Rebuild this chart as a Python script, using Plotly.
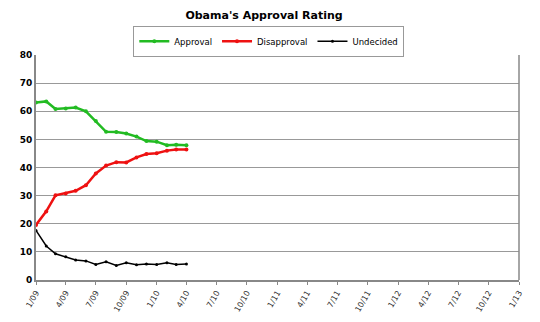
import plotly.graph_objects as go

months = ["2009-01-01", "2009-02-01", "2009-03-01", "2009-04-01", "2009-05-01", "2009-06-01",
          "2009-07-01", "2009-08-01", "2009-09-01", "2009-10-01", "2009-11-01", "2009-12-01",
          "2010-01-01", "2010-02-01", "2010-03-01", "2010-04-01"]
approval = [63.1, 63.5, 60.8, 61.0, 61.3, 60.0, 56.5, 52.7, 52.6, 52.1, 51.0, 49.4, 49.2, 47.9, 48.1, 47.9]
disapproval = [19.6, 24.4, 30.1, 30.8, 31.7, 33.7, 37.9, 40.7, 41.9, 41.8, 43.6, 44.8, 45.1, 46.0, 46.4, 46.4]
undecided = [17.6, 12.1, 9.3, 8.3, 7.1, 6.8, 5.5, 6.5, 5.2, 6.1, 5.4, 5.7, 5.5, 6.1, 5.5, 5.7]

tick_dates = ["2009-01-01", "2009-04-01", "2009-07-01", "2009-10-01", "2010-01-01", "2010-04-01",
              "2010-07-01", "2010-10-01", "2011-01-01", "2011-04-01", "2011-07-01", "2011-10-01",
              "2012-01-01", "2012-04-01", "2012-07-01", "2012-10-01", "2013-01-01"]
tick_labels = ["1/09", "4/09", "7/09", "10/09", "1/10", "4/10", "7/10", "10/10", "1/11", "4/11",
               "7/11", "10/11", "1/12", "4/12", "7/12", "10/12", "1/13"]
y_ticks = [0, 10, 20, 30, 40, 50, 60, 70, 80]

fig = go.Figure()
fig.add_trace(go.Scatter(x=months, y=approval, name="Approval", mode="lines+markers",
                         line=dict(color="#22bb22", width=2.5), marker=dict(size=4, color="#22bb22")))
fig.add_trace(go.Scatter(x=months, y=disapproval, name="Disapproval", mode="lines+markers",
                         line=dict(color="#ee1111", width=2.5), marker=dict(size=4, color="#ee1111")))
fig.add_trace(go.Scatter(x=months, y=undecided, name="Undecided", mode="lines+markers",
                         line=dict(color="#000000", width=1.5), marker=dict(size=3, color="#000000")))

fig.update_layout(
    width=540, height=322,
    margin=dict(l=36, r=21, t=55, b=42, autoexpand=False),
    paper_bgcolor="white", plot_bgcolor="white",
    font=dict(family="DejaVu Sans", size=9, color="#000"),
    title=dict(text="<b>Obama's Approval Rating</b>", x=0.489, xanchor="center", y=0.953, yanchor="middle",
               yref="container", font=dict(size=11, family="DejaVu Sans", color="#000")),
    legend=dict(orientation="h", x=0.482, xanchor="center", y=0.92, yanchor="top", yref="container",
                bordercolor="#999", borderwidth=1, font=dict(size=8.5), itemwidth=30,
                tracegroupgap=0, bgcolor="white"),
    showlegend=True,
)
fig.update_xaxes(type="date", range=["2009-01-01", "2013-01-01"], tickvals=tick_dates, ticktext=tick_labels,
                 tickangle=-60, tickfont=dict(size=8, color="#333"), showgrid=False,
                 showline=True, linecolor="#888", linewidth=2, ticks="outside", ticklen=3,
                 tickcolor="#888", mirror=False, zeroline=False, automargin=False)
fig.update_yaxes(range=[0, 80], tickvals=y_ticks,
                 tickfont=dict(size=9, color="#000", family="DejaVu Sans", weight="bold"),
                 showgrid=True, gridcolor="#999", gridwidth=1.3, showline=True, linecolor="#888",
                 linewidth=2, zeroline=False, ticks="", automargin=False)
fig.add_shape(type="line", xref="paper", yref="paper", x0=1, x1=1, y0=0, y1=1,
              line=dict(color="#888", width=1.5))

fig.write_html("out.html")
